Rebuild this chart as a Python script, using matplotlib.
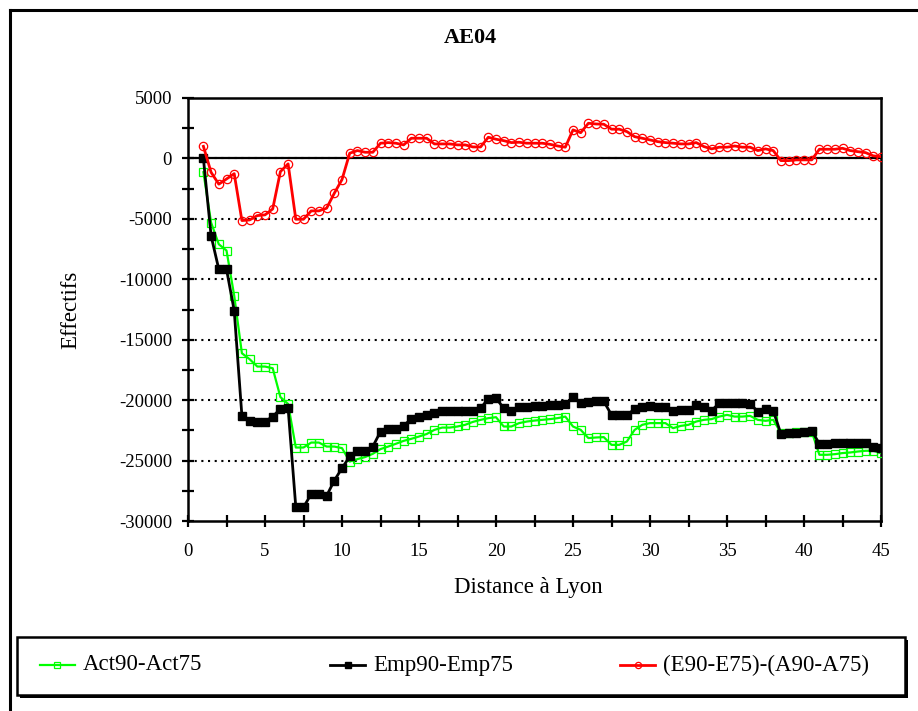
import matplotlib.pyplot as plt
from matplotlib.lines import Line2D
from matplotlib.patches import Rectangle
from matplotlib.ticker import MultipleLocator

plt.rcParams["font.family"] = ["Liberation Serif", "DejaVu Serif"]
plt.rcParams["axes.unicode_minus"] = False

# distance to Lyon (km), one reading every half unit
distance = [
    1.0, 1.5, 2.0, 2.5, 3.0, 3.5, 4.0, 4.5, 5.0, 5.5,
    6.0, 6.5, 7.0, 7.5, 8.0, 8.5, 9.0, 9.5, 10.0, 10.5,
    11.0, 11.5, 12.0, 12.5, 13.0, 13.5, 14.0, 14.5, 15.0, 15.5,
    16.0, 16.5, 17.0, 17.5, 18.0, 18.5, 19.0, 19.5, 20.0, 20.5,
    21.0, 21.5, 22.0, 22.5, 23.0, 23.5, 24.0, 24.5, 25.0, 25.5,
    26.0, 26.5, 27.0, 27.5, 28.0, 28.5, 29.0, 29.5, 30.0, 30.5,
    31.0, 31.5, 32.0, 32.5, 33.0, 33.5, 34.0, 34.5, 35.0, 35.5,
    36.0, 36.5, 37.0, 37.5, 38.0, 38.5, 39.0, 39.5, 40.0, 40.5,
    41.0, 41.5, 42.0, 42.5, 43.0, 43.5, 44.0, 44.5, 45.0,
]

act = [
    -1140, -5310, -7100, -7620, -11350, -16120, -16610, -17220, -17220, -17360,
    -19750, -20310, -23920, -23920, -23510, -23510, -23840, -23840, -23970, -25080,
    -24880, -24710, -24440, -24050, -23840, -23610, -23370, -23200, -23010, -22800,
    -22460, -22270, -22270, -22180, -22040, -21800, -21630, -21490, -21410, -22180,
    -22180, -21900, -21770, -21690, -21630, -21570, -21490, -21360, -22180, -22460,
    -23140, -23090, -23060, -23700, -23700, -23420, -22460, -22040, -21900, -21900,
    -21900, -22320, -22130, -22040, -21770, -21630, -21570, -21360, -21220, -21360,
    -21360, -21300, -21630, -21710, -21630, -22700, -22700, -22650, -22650, -22600,
    -24520, -24520, -24470, -24380, -24330, -24250, -24190, -24190, -24380,
]

emp = [
    0, -6410, -9170, -9170, -12590, -21300, -21690, -21770, -21770, -21360,
    -20720, -20660, -28850, -28850, -27780, -27780, -27920, -26650, -25630, -24660,
    -24170, -24170, -23840, -22600, -22370, -22370, -22100, -21570, -21360, -21220,
    -21080, -20890, -20860, -20860, -20860, -20860, -20660, -19890, -19840, -20660,
    -20860, -20530, -20530, -20450, -20450, -20400, -20400, -20350, -19750, -20250,
    -20150, -20050, -20100, -21220, -21220, -21220, -20750, -20600, -20500, -20530,
    -20530, -20860, -20800, -20800, -20390, -20530, -20860, -20250, -20250, -20250,
    -20270, -20300, -20940, -20740, -20860, -22790, -22730, -22680, -22650, -22540,
    -23610, -23610, -23580, -23510, -23560, -23560, -23560, -23890, -23970,
]

diff = [
    1000, -1150, -2130, -1700, -1260, -5140, -5090, -4730, -4670, -4180,
    -1090, -450, -5030, -5030, -4340, -4340, -4120, -2880, -1750, 430,
    650, 510, 510, 1260, 1310, 1260, 1120, 1670, 1670, 1670,
    1200, 1200, 1200, 1120, 1120, 950, 950, 1750, 1590, 1470,
    1310, 1340, 1260, 1260, 1260, 1170, 1030, 930, 2360, 2130,
    2910, 2850, 2830, 2420, 2420, 2220, 1800, 1670, 1530, 1390,
    1310, 1260, 1200, 1200, 1310, 980, 790, 930, 930, 1030,
    930, 930, 650, 790, 650, -180, -180, -120, -120, -120,
    760, 760, 760, 840, 650, 560, 480, 210, 150,
]

labels = ["Act90-Act75", "Emp90-Emp75", "(E90-E75)-(A90-A75)"]

W, H = 918, 711
fig = plt.figure(figsize=(W / 100, H / 100), dpi=100)
ax = fig.add_axes([188 / W, 1 - 521 / H, 693 / W, 423 / H])

# outer chart-area frame
fig.add_artist(Line2D([9.5 / W, 9.5 / W], [0, 1 - 9.5 / H], color="black", lw=2.2))
fig.add_artist(Line2D([9.5 / W, 1], [1 - 9.5 / H, 1 - 9.5 / H], color="black", lw=2.2))

for y in range(-25000, 5000, 5000):
    ax.axhline(y, color="black", lw=1.5, ls=(0, (1, 2.2)), zorder=1)
ax.axhline(0, color="black", lw=1.6, zorder=1)

styles = [
    dict(color="#00ff00", lw=1.6, marker="s", mfc="none", mec="#00ff00", mew=0.9),
    dict(color="black", lw=2.0, marker="s", mfc="black", mec="black"),
    dict(color="#ff0000", lw=2.0, marker="o", mfc="none", mec="#ff0000", mew=0.9),
]
ax.plot(distance, act, ms=5.5, zorder=3, **styles[0])
ax.plot(distance, emp, ms=5.5, zorder=4, **styles[1])
ax.plot(distance, diff, ms=6, zorder=5, **styles[2])

ax.set_xlim(0, 45)
ax.set_ylim(-30000, 5000)
ax.xaxis.set_major_locator(MultipleLocator(5))
ax.xaxis.set_minor_locator(MultipleLocator(2.5))
ax.yaxis.set_major_locator(MultipleLocator(5000))
ax.yaxis.set_minor_locator(MultipleLocator(2500))
ax.tick_params(which="both", direction="inout", length=9, width=1.6,
               labelsize=13.5, top=False, right=False)
ax.tick_params(axis="x", pad=11)
ax.tick_params(axis="y", pad=7)
for sp in ax.spines.values():
    sp.set_linewidth(1.8)

fig.text(528 / W, 1 - 587 / H, "Distance à Lyon", fontsize=16.5,
         ha="center", va="center")
fig.text(71 / W, 1 - 310 / H, "Effectifs", fontsize=16.5, rotation=90,
         ha="center", va="center")
fig.text(470 / W, 1 - 38 / H, "AE04", fontsize=16, fontweight="bold",
         ha="center", va="center")

# legend box with black drop shadow
fig.add_artist(Rectangle((20 / W, 1 - 698 / H), 888 / W, 58 / H,
                         transform=fig.transFigure, facecolor="black",
                         edgecolor="none"))
fig.add_artist(Rectangle((17 / W, 1 - 695 / H), 888 / W, 58 / H,
                         transform=fig.transFigure, facecolor="white",
                         edgecolor="black", lw=1.8))
handle_x = [40, 330, 620]
ly = 1 - 665 / H
for hx, lab, st in zip(handle_x, labels, styles):
    fig.add_artist(Line2D([hx / W, (hx + 35) / W], [ly, ly],
                          markevery=[], **st))
    fig.add_artist(Line2D([(hx + 17.5) / W], [ly], ms=4.5,
                          **{k: v for k, v in st.items() if k != "lw"}))
    fig.text((hx + 43) / W, ly, lab, fontsize=16.5, ha="left", va="center")

fig.savefig("out.png", dpi=100)
